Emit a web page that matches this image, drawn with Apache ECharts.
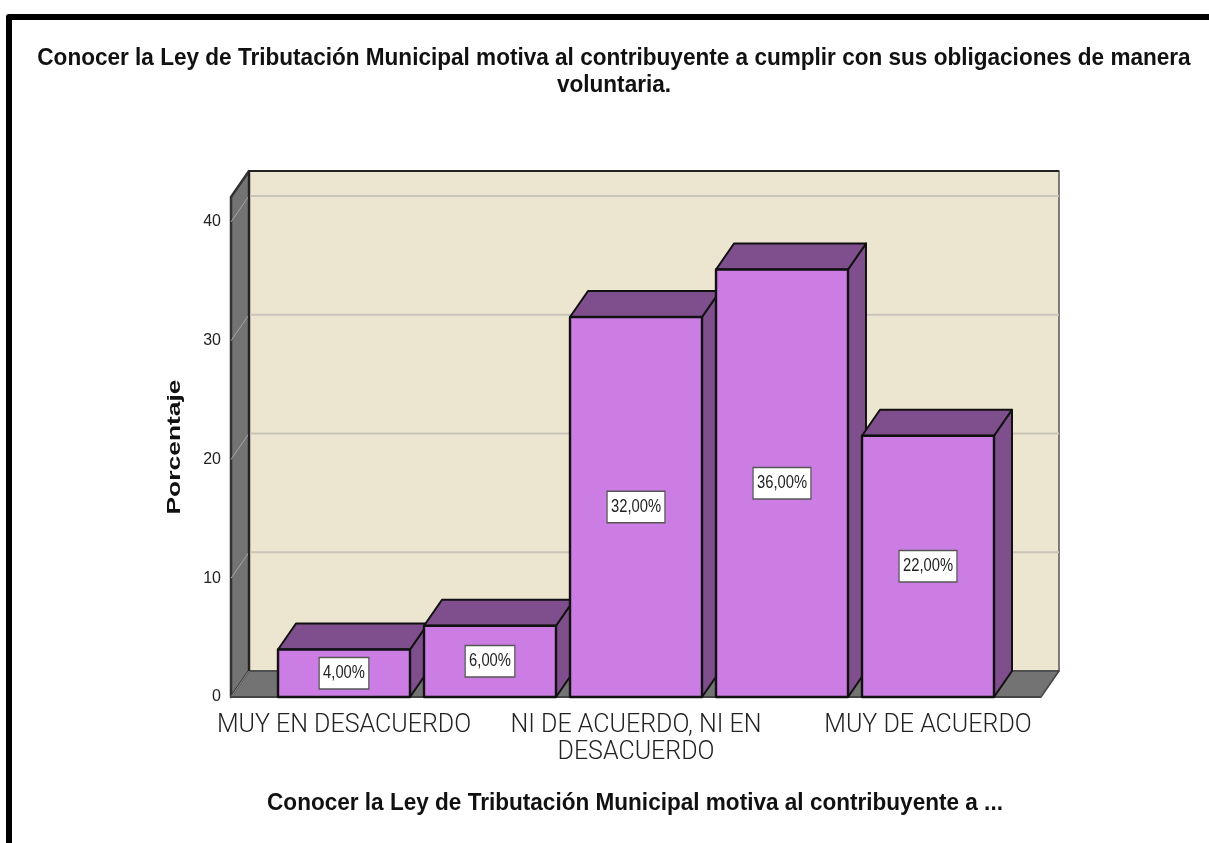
<!DOCTYPE html>
<html>
<head>
<meta charset="utf-8">
<style>html,body{margin:0;padding:0;background:#fff}#c{width:1209px;height:843px}</style>
<script src="https://cdn.jsdelivr.net/npm/echarts@6/dist/echarts.min.js"></script>
</head>
<body>
<div id="c"></div>
<script>
const categories = ['MUY EN DESACUERDO','EN DESACUERDO','NI DE ACUERDO, NI EN\nDESACUERDO','DE ACUERDO','MUY DE ACUERDO'];
const percentages = [4, 6, 32, 36, 22];
const valueTicks = [0, 10, 20, 30, 40];
const chartTitle = 'Conocer la Ley de Tributación Municipal motiva al contribuyente a cumplir con sus obligaciones de manera\nvoluntaria.';
const xTitle = 'Conocer la Ley de Tributación Municipal motiva al contribuyente a ...';
const yTitle = 'Porcentaje';

const DX = 18, DY = -26, PAD = 40;
const WALL = '#ece5d0', SIDE = '#737373', FRONT = '#cb7de4', SHADE = '#7e4f8c', EDGE = '#111', GRID = '#c9c5b8';
const poly = (pts, fill, stroke, lw) => ({type:'polygon', shape:{points:pts}, style:{fill:fill, stroke:stroke, lineWidth:lw, lineJoin:'round'}});
const line = (a, b, c, w) => ({type:'line', shape:{x1:a[0],y1:a[1],x2:b[0],y2:b[1]}, style:{stroke:c, lineWidth:w}});

function renderBackdrop(params, api) {
  const g = params.coordSys;
  const l = g.x - PAD, r = g.x + g.width + PAD, t = g.y, b = g.y + g.height;
  const kids = [
    poly([[l+DX,t+DY],[r+DX,t+DY],[r+DX,b+DY],[l+DX,b+DY]], WALL, '#555', 1.5),
    poly([[l,t],[l+DX,t+DY],[l+DX,b+DY],[l,b]], SIDE, '#333', 2.5),
    poly([[l,b],[l+DX,b+DY],[r+DX,b+DY],[r,b]], SIDE, '#444', 1.5)
  ];
  valueTicks.forEach(v => {
    const y = api.coord([0, v])[1];
    if (v > 0) kids.push(line([l+DX,y+DY],[r+DX,y+DY],GRID,2));
    kids.push(line([l,y],[l+DX,y+DY],v > 0 ? '#a5a5a5' : '#8c8c8c',1));
  });
  kids.push(line([l+DX,t+DY],[r+DX,t+DY],'#222',2));
  kids.push(line([l+DX,t+DY],[l+DX,b+DY],'#222',2));
  kids.push(line([l,b],[r,b],'#444',2));
  return {type:'group', children:kids};
}

function renderBar(params, api) {
  const cx = api.coord([api.value(0), 0])[0];
  const y0 = api.coord([api.value(0), 0])[1];
  const y1 = api.coord([api.value(0), api.value(1)])[1];
  const w = api.size([1, 0])[0] * 0.904;
  const l = cx - w/2, r = cx + w/2;
  return {type:'group', children:[
    poly([[r,y1],[r+DX,y1+DY],[r+DX,y0+DY],[r,y0]], SHADE, EDGE, 2),
    poly([[l,y1],[l+DX,y1+DY],[r+DX,y1+DY],[r,y1]], SHADE, EDGE, 2),
    poly([[l,y1],[r,y1],[r,y0],[l,y0]], FRONT, EDGE, 2.4),
    {type:'text', x:cx, y:(y0+y1)/2, scaleX:0.82, style:{
      text: api.value(1) + ',00%', x:0, y:0, align:'center', verticalAlign:'middle',
      font:'18px "Liberation Sans"', fill:'#222',
      backgroundColor:'#fff', borderColor:'#555', borderWidth:1.5, padding:[6,4,6,4]
    }}
  ]};
}

const boldLabel = (text, x, y, lineHeight) => ({
  type:'text', z:50, x:x, y:y, scaleX:0.94,
  style:{text:text, align:'center', verticalAlign:'middle', lineHeight:lineHeight,
    font:'bold 24px "Liberation Sans"', fill:'#111'}
});

const chart = echarts.init(document.getElementById('c'), null, {renderer:'canvas'});
chart.setOption({
  animation:false,
  backgroundColor:'#fff',
  graphic:[
    {type:'polyline', z:50, shape:{points:[[9,843],[9,17],[1209,17]]}, style:{stroke:'#000', fill:'none', lineWidth:6, lineJoin:'round'}},
    boldLabel(chartTitle, 614, 72, 27),
    boldLabel(xTitle, 635, 803, 27),
    {type:'text', z:50, x:175, y:447, rotation:Math.PI/2, scaleX:1.39, style:{text:yTitle, align:'center', verticalAlign:'middle', font:'bold 19px "Liberation Sans"', fill:'#111'}}
  ],
  grid:{left:271, right:208, top:197, bottom:146, containLabel:false},
  xAxis:{
    type:'category', data:categories,
    axisLine:{show:false}, axisTick:{show:false},
    axisLabel:{interval:1, margin:15, fontFamily:'Roboto', fontWeight:300, fontSize:25, lineHeight:27, color:'#222'}
  },
  yAxis:{
    type:'value', min:0, max:42.1, interval:10,
    axisLine:{show:false}, axisTick:{show:false}, splitLine:{show:false},
    axisLabel:{margin:50, fontFamily:'Liberation Sans', fontSize:16, color:'#222', showMaxLabel:false,
      formatter:v => valueTicks.includes(v) ? String(v) : ''}
  },
  series:[
    {type:'custom', coordinateSystem:'cartesian2d', renderItem:renderBackdrop, data:[[0,0]], clip:false, silent:true, z:1},
    {type:'custom', coordinateSystem:'cartesian2d', renderItem:renderBar, data:percentages.map((v,i)=>[i,v]), clip:false, z:2}
  ]
});
</script>
</body>
</html>
